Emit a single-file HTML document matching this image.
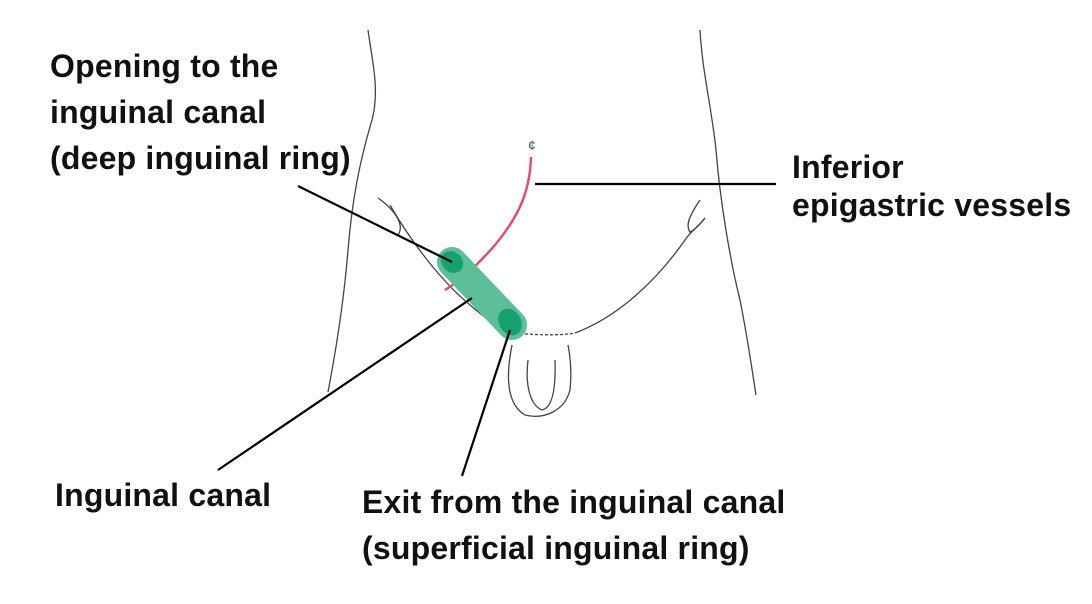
<!DOCTYPE html>
<html><head><style>
body{margin:0;width:1092px;height:604px;background:#fff;position:relative;overflow:hidden;font-family:"Liberation Sans",sans-serif}
.t{position:absolute;font-weight:bold;font-size:32px;color:#111;line-height:46px;white-space:nowrap;letter-spacing:0.2px}
svg{position:absolute;left:0;top:0}
</style></head><body>
<svg width="1092" height="604" viewBox="0 0 1092 604">
<g fill="none" stroke="#444" stroke-width="1.3">
<path d="M368 30 C372 60 380 90 372 120 C360 160 352 200 348 250 C344 300 336 350 328 392"/>
<path d="M700 30 C702 70 712 110 716 150 C720 200 730 260 740 300 C748 340 752 370 756 395"/>
<path d="M378 198 C395 210 405 225 398 235"/>
<path d="M390 205 C410 240 440 280 470 305 C485 318 495 325 505 330"/>
<path d="M505 332 C530 335 560 336 575 333" stroke-dasharray="3 2"/>
<path d="M575 333 C610 320 650 290 685 240 C690 232 700 225 705 218"/>
<path d="M700 200 C690 215 685 225 690 232 C695 230 702 222 705 218"/>
<path d="M512 345 C505 380 508 405 525 415 C545 420 565 410 570 390 C572 370 570 355 568 345"/>
<path d="M528 360 C525 385 530 405 542 410 C552 408 556 390 555 360"/>
</g>
<text x="528" y="150" font-size="14" fill="#555" font-family="Liberation Sans">¢</text>
<path d="M531 157 C530 190 520 215 495 245 C475 268 458 282 445 290" fill="none" stroke="#e0506a" stroke-width="2.5"/>
<line x1="452" y1="262" x2="512" y2="325" stroke="#5cbf98" stroke-width="30" stroke-linecap="round"/>
<ellipse cx="452" cy="262" rx="12" ry="10" fill="#17a070" transform="rotate(45 452 262)"/>
<ellipse cx="510" cy="322" rx="11" ry="14" fill="#17a070" transform="rotate(-30 510 322)"/>
<g stroke="#000" stroke-width="2.2">
<line x1="298" y1="186" x2="452" y2="262"/>
<line x1="535" y1="184" x2="776" y2="184"/>
<line x1="218" y1="470" x2="472" y2="298"/>
<line x1="462" y1="476" x2="510" y2="330"/>
</g>
</svg>
<div class="t" style="left:50px;top:43px">Opening to the<br>inguinal canal<br>(deep inguinal ring)</div>
<div class="t" style="left:792px;top:148px;line-height:38px">Inferior<br>epigastric vessels</div>
<div class="t" style="left:55px;top:472px">Inguinal canal</div>
<div class="t" style="left:362px;top:479px">Exit from the inguinal canal<br>(superficial inguinal ring)</div>
</body></html>
